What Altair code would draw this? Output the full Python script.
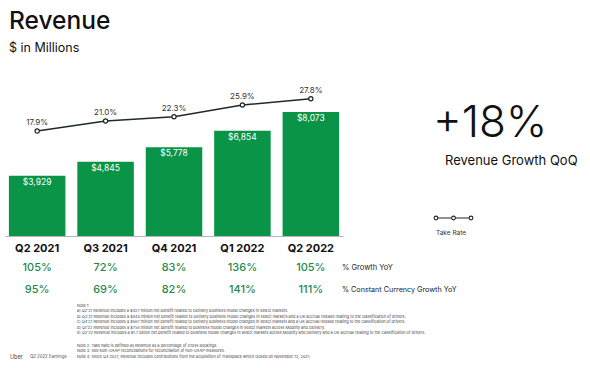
import altair as alt
import pandas as pd

quarters = ["Q2 2021", "Q3 2021", "Q4 2021", "Q1 2022", "Q2 2022"]
revenue = [3929, 4845, 5778, 6854, 8073]
take_rate = [17.9, 21.0, 22.3, 25.9, 27.8]
growth_yoy = ["105%", "72%", "83%", "136%", "105%"]
growth_ccy = ["95%", "69%", "82%", "141%", "111%"]

notes_1 = [
    "Note 1:",
    "a) Q2'21 Revenue includes a $427 million net benefit related to Delivery business model changes in select markets.",
    "b) Q3'21 Revenue includes a $640 million net benefit related to Delivery business model changes in select markets and a UK accrual release relating to the classification of drivers.",
    "c) Q4'21 Revenue includes a $567 million net benefit related to Delivery business model changes in select markets and a UK accrual release relating to the classification of drivers.",
    "d) Q1'22 Revenue includes a $754 million net benefit related to business model changes in select markets across Mobility and Delivery.",
    "e) Q2'22 Revenue includes a $1.7 billion net benefit related to business model changes in select markets across Mobility and Delivery and a UK accrual relating to the classification of drivers.",
]
notes_2 = [
    "Note 2: Take Rate is defined as Revenue as a percentage of Gross Bookings.",
    "Note 3: See Non-GAAP reconciliations for reconciliation of non-GAAP measures.",
    "Note 4: Since Q4 2021, Revenue includes contributions from the acquisition of Transplace which closed on November 12, 2021.",
]

df = pd.DataFrame({
    "quarter": quarters,
    "revenue": revenue,
    "take_rate": take_rate,
    "yoy": growth_yoy,
    "ccy": growth_ccy,
})
df["rev_label"] = ["$" + f"{v:,}" for v in revenue]
df["tr_label"] = [f"{v:.1f}%" for v in take_rate]

FONT = "Inter"
GREEN = "#0a9447"
DARK = "#1e2b25"
L, T = 5, 90
W, H = 338, 146

x = alt.X(
    "quarter:N", sort=quarters, title=None,
    scale=alt.Scale(paddingInner=0.174, paddingOuter=0.057),
    axis=alt.Axis(labelAngle=0, ticks=False, domainColor="#b5b5b5", domainWidth=1,
                  labelFont=FONT, labelFontSize=11, labelFontWeight="bold",
                  labelColor="#111111", labelPadding=6),
)
y_rev = alt.Y("revenue:Q", scale=alt.Scale(domain=[0, 9511]), axis=None)
y_tr = alt.Y("take_rate:Q", scale=alt.Scale(domain=[-14.3, 30.5]), axis=None)

base = alt.Chart(df)
bars = base.mark_bar(color=GREEN).encode(x=x, y=y_rev)
bar_text = base.mark_text(color="white", font=FONT, fontSize=8.5, baseline="top", dy=2).encode(
    x=x, y=y_rev, text="rev_label:N")
tr_line = base.mark_line(color=DARK, strokeWidth=1.6).encode(x=x, y=y_tr)
tr_pts = base.mark_point(shape="circle", filled=True, fill="white", stroke=DARK,
                         strokeWidth=1.2, size=18, opacity=1).encode(x=x, y=y_tr)
tr_text = base.mark_text(color="#333333", font=FONT, fontSize=8, baseline="bottom", dy=-4).encode(
    x=x, y=y_tr, text="tr_label:N")
yoy_text = base.mark_text(color="#1f8a4c", font=FONT, fontSize=11, fontWeight=500).encode(
    x=x, y=alt.value(268 - T), text="yoy:N")
ccy_text = base.mark_text(color="#1f8a4c", font=FONT, fontSize=11, fontWeight=500).encode(
    x=x, y=alt.value(290 - T), text="ccy:N")


def label(text, px, py, size, color="#111111", weight="normal", baseline="middle", **kw):
    return alt.Chart(pd.DataFrame({"t": [0]})).mark_text(
        text=text, align="left", baseline=baseline, font=FONT, fontSize=size,
        color=color, fontWeight=weight, **kw
    ).encode(x=alt.value(px - L), y=alt.value(py - T))


annots = [
    label("Revenue", 9, 22, 24.5, weight=500),
    label("$ in Millions", 9, 48, 12.5),
    label("+18%", 433, 124, 44, weight=300),
    label("Revenue Growth QoQ", 445, 161, 13),
    label("Take Rate", 436, 233, 6.5, color="#333333"),
    label("% Growth YoY", 342, 268, 7.5, color="#222222"),
    label("% Constant Currency Growth YoY", 342, 290, 7.2, color="#222222"),
    label(notes_1, 77, 303.5, 3.9, color="#444444", baseline="top", lineHeight=5.5),
    label(notes_2, 77, 343.5, 3.9, color="#444444", baseline="top", lineHeight=5.5),
    label("Uber", 10, 357, 5.5, color="#444444"),
    label("Q2 2022 Earnings", 30, 357, 4.3, color="#444444"),
]

legend_rule = alt.Chart(pd.DataFrame({"t": [0]})).mark_rule(color=DARK, strokeWidth=1.2).encode(
    x=alt.value(436 - L), x2=alt.value(471 - L), y=alt.value(218 - T))
legend_pts = [
    alt.Chart(pd.DataFrame({"t": [0]})).mark_point(
        shape="circle", filled=True, fill="white", stroke=DARK, strokeWidth=1.1, size=14, opacity=1
    ).encode(x=alt.value(px - L), y=alt.value(218 - T))
    for px in (436, 453.5, 471)
]

chart = alt.layer(
    bars, bar_text, tr_line, tr_pts, tr_text, yoy_text, ccy_text,
    *annots, legend_rule, *legend_pts
).resolve_scale(y="independent").properties(
    width=W, height=H,
    autosize=alt.AutoSizeParams(type="none"),
    padding={"left": L, "top": T, "right": 590 - L - W, "bottom": 368 - T - H},
    background="white",
).configure_view(stroke=None)

chart.save("out.html", embed_options={"renderer": "svg", "actions": False})
